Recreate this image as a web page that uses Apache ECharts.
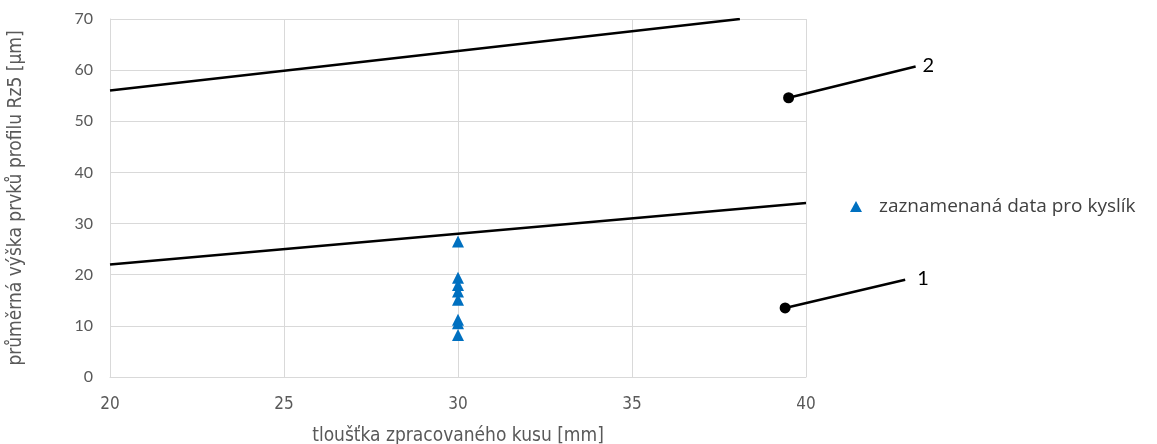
<!DOCTYPE html>
<html><head><meta charset="utf-8">
<script src="https://cdn.jsdelivr.net/npm/echarts@6/dist/echarts.min.js"></script>
<style>html,body{margin:0;padding:0;background:#fff}#c{width:1157px;height:444px}</style>
</head><body><div id="c"></div>
<script>
const xTicks = [20, 25, 30, 35, 40];
const yTicks = [0, 10, 20, 30, 40, 50, 60, 70];
const measuredX = [30, 30, 30, 30, 30, 30, 30, 30];
const measuredY = [26.5, 19.4, 18.0, 16.7, 15.1, 11.2, 10.5, 8.2];
const line1 = [[20, 22], [40, 34]];
const line2 = [[20, 56], [38.1, 70]];
// callouts: [dot x, dot y, end x, end y]
const callouts = [[39.4, 13.5, 42.85, 19.0], [39.5, 54.6, 43.15, 60.7]];
const calloutLabels = ['1', '2'];
const legendName = 'zaznamenaná data pro kyslík';

const narrow = "'Liberation Sans Narrow','Arial Narrow','DejaVu Sans Condensed',sans-serif";
const chart = echarts.init(document.getElementById('c'));
chart.setOption({
  animation: false,
  grid: {left: 110, right: 351, top: 19, bottom: 67, outerBoundsMode: 'none', containLabel: false},
  legend: {
    data: [legendName], left: 845, top: 192, itemWidth: 12, itemHeight: 11, itemGap: 10,
    textStyle: {fontFamily: "'Open Sans'", fontSize: 19, color: '#404040', padding: [0,0,0,12]}
  },
  xAxis: {
    type: 'value', min: xTicks[0], max: xTicks[xTicks.length-1], interval: 5,
    name: 'tloušťka zpracovaného kusu [mm]', nameLocation: 'middle', nameGap: 50,
    nameTextStyle: {fontFamily: narrow, fontSize: 19, color: '#595959'},
    axisLine: {show: true, lineStyle: {color: '#d9d9d9'}}, axisTick: {show: false},
    axisLabel: {margin: 19, fontFamily: narrow, fontSize: 17, color: '#595959'},
    splitLine: {show: true, lineStyle: {color: '#d9d9d9'}}
  },
  yAxis: {
    type: 'value', min: yTicks[0], max: yTicks[yTicks.length-1], interval: 10,
    name: 'průměrná výška prvků profilu Rz5 [μm]', nameLocation: 'middle', nameGap: 84,
    nameTextStyle: {fontFamily: narrow, fontSize: 19, color: '#595959'},
    axisLine: {show: true, lineStyle: {color: '#d9d9d9'}}, axisTick: {show: false},
    axisLabel: {margin: 17, fontFamily: 'Lato', fontSize: 16, color: '#595959'},
    splitLine: {show: true, lineStyle: {color: '#d9d9d9'}}
  },
  series: [
    {type: 'line', data: line1, symbol: 'none', lineStyle: {color: '#000', width: 2.5}, silent: true, z: 3},
    {type: 'line', data: line2, symbol: 'none', lineStyle: {color: '#000', width: 2.5}, silent: true, z: 3},
    {name: legendName, type: 'scatter', symbol: 'triangle', symbolSize: 12,
     itemStyle: {color: '#0070c0', opacity: 1}, data: measuredX.map((x, i) => [x, measuredY[i]]), z: 4},
    {type: 'custom', clip: false, silent: true, z: 5,
     encode: {x: [0, 2], y: [1, 3]},
     data: callouts,
     renderItem: function (params, api) {
       const a = api.coord([api.value(0), api.value(1)]);
       const b = api.coord([api.value(2), api.value(3)]);
       return {type: 'group', children: [
         {type: 'line', shape: {x1: a[0], y1: a[1], x2: b[0], y2: b[1]}, style: {stroke: '#000', lineWidth: 2.5}},
         {type: 'circle', shape: {cx: a[0], cy: a[1], r: 5.5}, style: {fill: '#000'}},
         {type: 'text', x: b[0] + (params.dataIndex === 0 ? 12 : 7), y: b[1] - 1, style: {text: calloutLabels[params.dataIndex],
           fontFamily: 'Lato', fontSize: 20, fill: '#000', verticalAlign: 'middle', align: 'left'}}
       ]};
     }}
  ]
});
</script></body></html>
